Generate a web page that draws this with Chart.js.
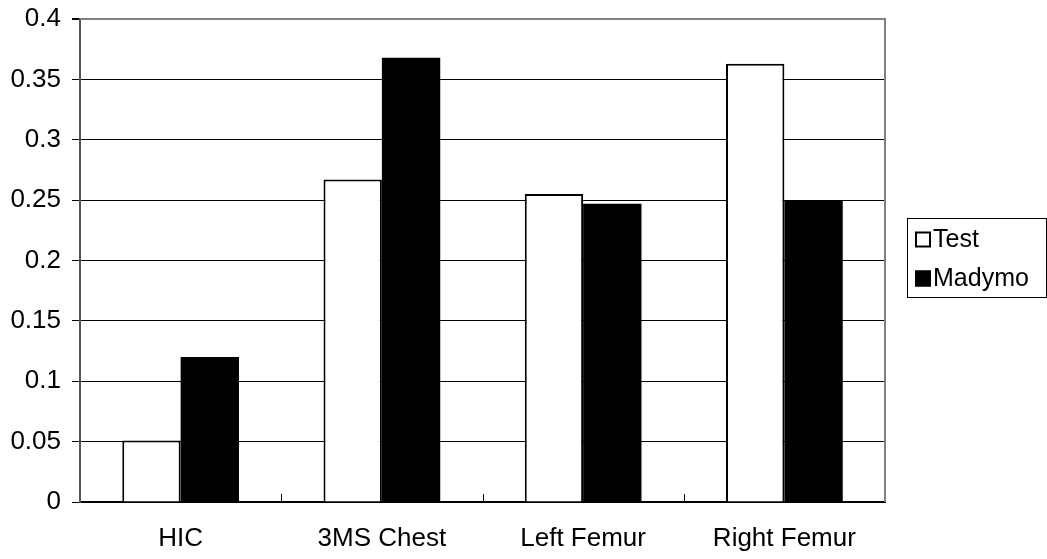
<!DOCTYPE html>
<html>
<head>
<meta charset="utf-8">
<script src="https://cdn.jsdelivr.net/npm/chart.js@4/dist/chart.umd.min.js"></script>
<style>
  html, body { margin: 0; padding: 0; background: #fff; }
  #wrap { width: 1047px; height: 559px; }
</style>
</head>
<body>
<div id="wrap"><canvas id="chart" width="1047" height="559"></canvas></div>
<script>
  // datos
  const categories = ["HIC", "3MS Chest", "Left Femur", "Right Femur"];
  const testValues = [0.051, 0.267, 0.255, 0.363];
  const madymoValues = [0.120, 0.368, 0.247, 0.250];
  const yTicks = [0, 0.05, 0.1, 0.15, 0.2, 0.25, 0.3, 0.35, 0.4];

  const FONT = "'Liberation Sans', Arial, sans-serif";

  // marco gris, marcas internas del eje x y leyenda
  const framePlugin = {
    id: "frame",
    afterDraw(chart) {
      const { ctx, chartArea: a, scales } = chart;
      ctx.save();
      ctx.strokeStyle = "#808080";
      ctx.lineWidth = 2;
      ctx.beginPath();
      ctx.moveTo(a.left, a.top);
      ctx.lineTo(a.right, a.top);
      ctx.lineTo(a.right, a.bottom);
      ctx.stroke();

      // marcas cortas entre categorias
      ctx.strokeStyle = "#000";
      ctx.lineWidth = 1;
      const x = scales.x;
      for (let i = 0; i < categories.length - 1; i++) {
        const px = Math.round((x.getPixelForValue(i) + x.getPixelForValue(i + 1)) / 2) + 0.5;
        ctx.beginPath();
        ctx.moveTo(px, a.bottom);
        ctx.lineTo(px, a.bottom - 8);
        ctx.stroke();
      }

      // leyenda
      const lx = 907, ly = 218, lw = 139, lh = 79;
      ctx.strokeStyle = "#000";
      ctx.lineWidth = 1;
      ctx.strokeRect(lx + 0.5, ly + 0.5, lw, lh);
      ctx.font = "25px " + FONT;
      ctx.textBaseline = "middle";
      chart.data.datasets.forEach((ds, i) => {
        const cy = 239.5 + i * 39;
        ctx.fillStyle = ds.backgroundColor;
        ctx.fillRect(915, cy - 8, 16, 16);
        ctx.lineWidth = 2;
        ctx.strokeStyle = "#000";
        ctx.strokeRect(916, cy - 7, 14, 14);
        ctx.fillStyle = "#000";
        ctx.fillText(ds.label, 933, cy + 1);
      });
      ctx.restore();
    }
  };

  new Chart(document.getElementById("chart"), {
    type: "bar",
    data: {
      labels: categories,
      datasets: [
        {
          label: "Test",
          data: testValues,
          backgroundColor: "#ffffff",
          borderColor: "#000000",
          borderWidth: 2,
          borderSkipped: "bottom",
          barPercentage: 1,
          categoryPercentage: 0.58
        },
        {
          label: "Madymo",
          data: madymoValues,
          backgroundColor: "#000000",
          borderColor: "#000000",
          borderWidth: 0,
          barPercentage: 1,
          categoryPercentage: 0.58
        }
      ]
    },
    options: {
      responsive: false,
      animation: false,
      layout: { padding: { top: 19, right: 162, left: 0, bottom: 0 } },
      plugins: {
        legend: { display: false },
        tooltip: { enabled: false }
      },
      scales: {
        x: {
          grid: { display: false, drawTicks: false },
          border: { display: true, color: "#000", width: 2 },
          ticks: {
            color: "#000",
            padding: 21,
            font: { family: FONT, size: 26 }
          },
          afterFit: (s) => { s.height = 57; s.paddingLeft = 0; s.paddingRight = 0; }
        },
        y: {
          min: 0,
          max: 0.4,
          afterBuildTicks: (s) => { s.ticks = yTicks.map(v => ({ value: v })); },
          grid: {
            color: (c) => (c.tick && c.tick.value === 0.4 ? "#808080" : "#000"),
            lineWidth: (c) => (c.tick && c.tick.value === 0.4 ? 2 : 1),
            tickLength: 8,
            tickColor: "#000"
          },
          border: { display: true, color: "#555", width: 2 },
          ticks: {
            color: "#000",
            padding: 11,
            font: { family: FONT, size: 26 },
            callback: (v) => String(v)
          },
          afterFit: (s) => { s.width = 80; s.paddingTop = 0; s.paddingBottom = 0; }
        }
      }
    },
    plugins: [framePlugin]
  });
</script>
</body>
</html>
